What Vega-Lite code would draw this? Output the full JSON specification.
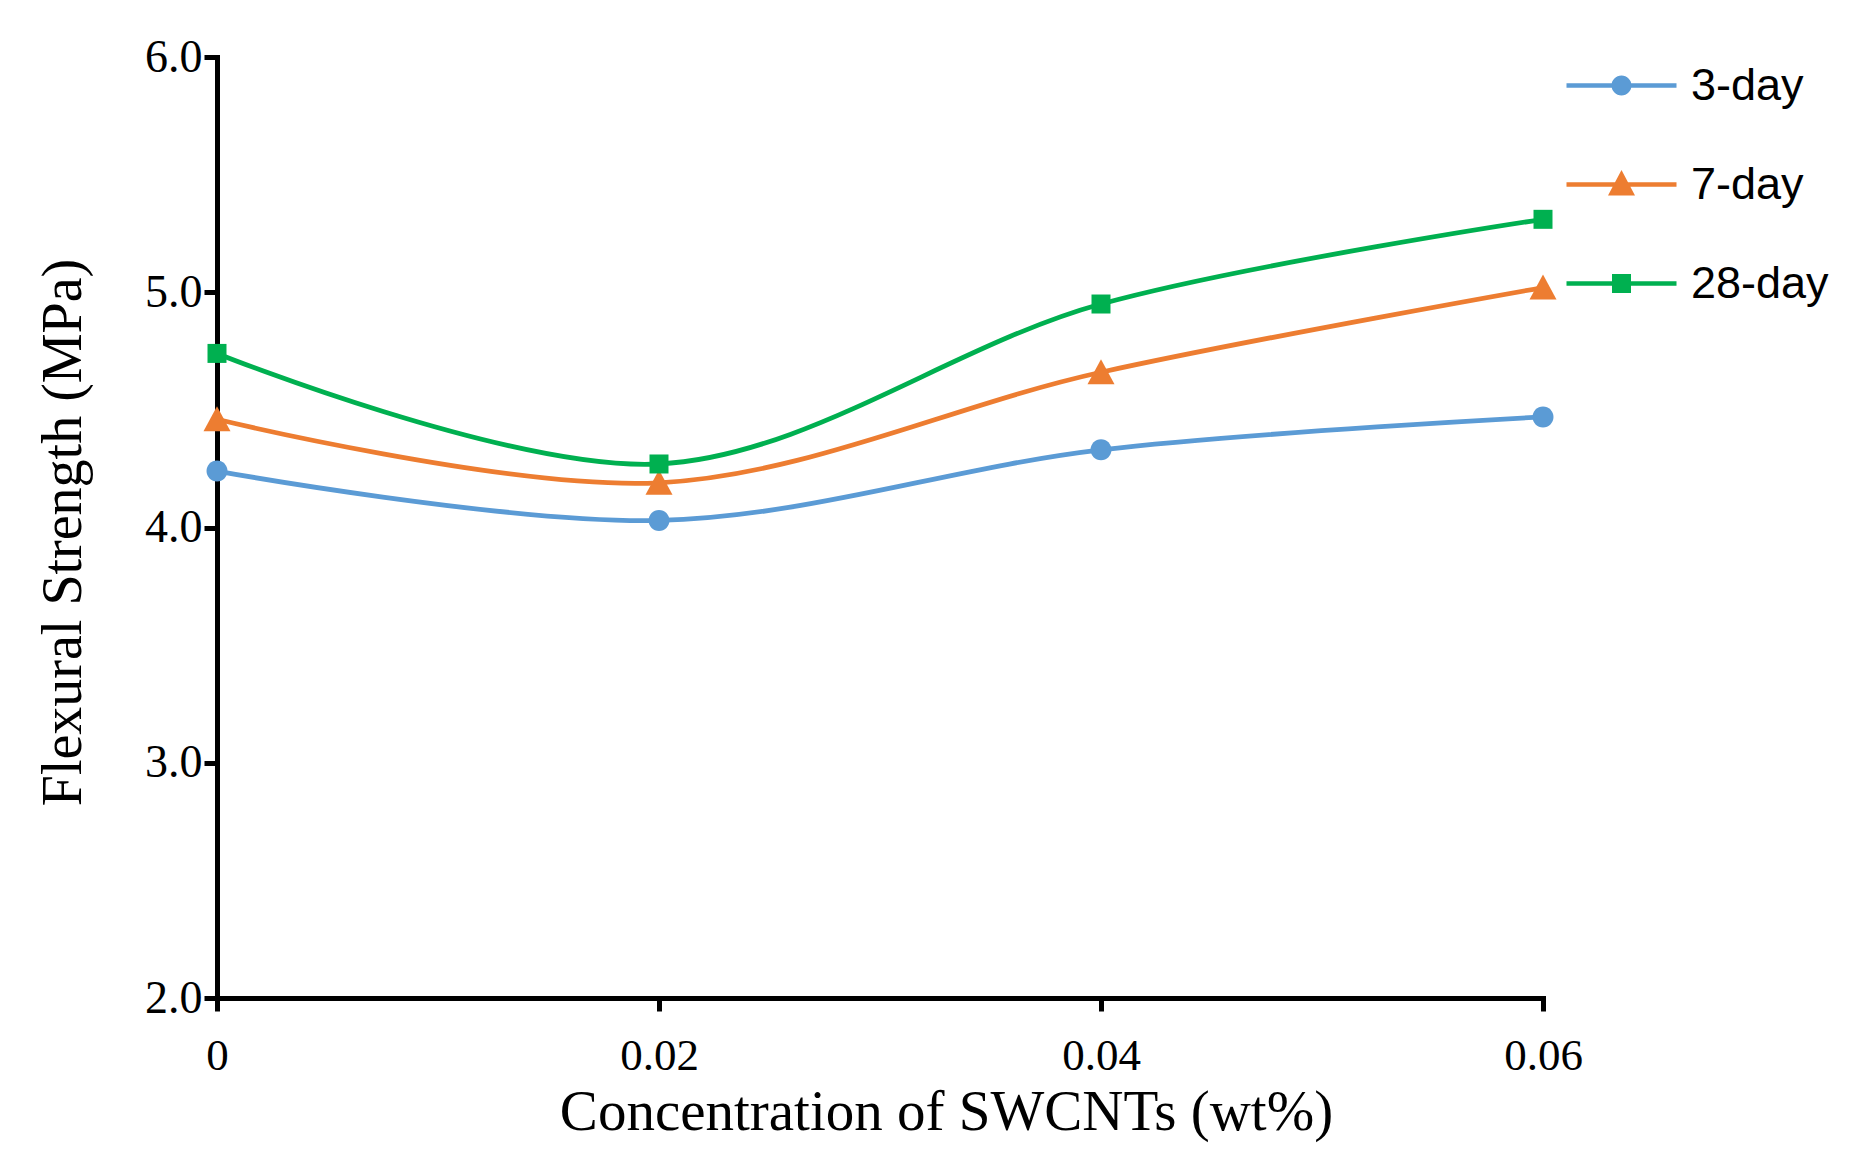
{
  "$schema": "https://vega.github.io/schema/vega-lite/v6.json",
  "width": 1326,
  "height": 941,
  "autosize": {"type": "none"},
  "padding": {"left": 217, "top": 57, "right": 317, "bottom": 170},
  "background": "white",
  "config": {"view": {"stroke": null}, "axis": {"grid": false}},
  "data": {
    "values": [
      {"conc": 0, "strength": 4.24, "age": "3-day"},
      {"conc": 0.02, "strength": 4.03, "age": "3-day"},
      {"conc": 0.04, "strength": 4.33, "age": "3-day"},
      {"conc": 0.06, "strength": 4.47, "age": "3-day"},
      {"conc": 0, "strength": 4.46, "age": "7-day"},
      {"conc": 0.02, "strength": 4.19, "age": "7-day"},
      {"conc": 0.04, "strength": 4.66, "age": "7-day"},
      {"conc": 0.06, "strength": 5.02, "age": "7-day"},
      {"conc": 0, "strength": 4.74, "age": "28-day"},
      {"conc": 0.02, "strength": 4.27, "age": "28-day"},
      {"conc": 0.04, "strength": 4.95, "age": "28-day"},
      {"conc": 0.06, "strength": 5.31, "age": "28-day"}
    ]
  },
  "encoding": {
    "x": {
      "field": "conc",
      "type": "quantitative",
      "scale": {"domain": [0, 0.06], "nice": false, "zero": false},
      "axis": {
        "values": [0, 0.02, 0.04, 0.06],
        "format": "~g",
        "title": "Concentration of SWCNTs (wt%)",
        "domainColor": "black",
        "domainWidth": 5,
        "domainCap": "square",
        "tickColor": "black",
        "tickWidth": 5,
        "tickSize": 13,
        "labelFont": "Liberation Serif",
        "labelFontSize": 45,
        "labelColor": "black",
        "labelPadding": 22,
        "labelFlush": false,
        "labelOverlap": false,
        "titleFont": "Liberation Serif",
        "titleFontSize": 57,
        "titleFontWeight": "normal",
        "titleColor": "black",
        "titleX": 729,
        "titleY": 131,
        "titleBaseline": "alphabetic"
      }
    },
    "y": {
      "field": "strength",
      "type": "quantitative",
      "scale": {"domain": [2, 6], "nice": false, "zero": false},
      "axis": {
        "values": [2, 3, 4, 5, 6],
        "format": ".1f",
        "title": "Flexural Strength (MPa)",
        "domainColor": "black",
        "domainWidth": 5,
        "domainCap": "square",
        "tickColor": "black",
        "tickWidth": 5,
        "tickSize": 13,
        "labelFont": "Liberation Serif",
        "labelFontSize": 46,
        "labelColor": "black",
        "labelPadding": 2,
        "labelFlush": false,
        "labelOverlap": false,
        "titleFont": "Liberation Serif",
        "titleFontSize": 56,
        "titleFontWeight": "normal",
        "titleColor": "black",
        "titleX": -137,
        "titleY": 475,
        "titleBaseline": "alphabetic"
      }
    },
    "color": {
      "field": "age",
      "type": "nominal",
      "scale": {"domain": ["3-day", "7-day", "28-day"], "range": ["#5B9BD5", "#ED7D31", "#00B050"]},
      "legend": {
        "title": null,
        "orient": "none",
        "legendX": 1382,
        "legendY": 6,
        "padding": 0,
        "symbolSize": 400,
        "symbolStrokeWidth": 0,
        "labelFont": "Liberation Sans",
        "labelFontSize": 45,
        "labelColor": "black",
        "labelOffset": 47,
        "labelLimit": 0,
        "rowPadding": 53,
        "encode": {
          "symbols": {
            "update": {
              "shape": {"signal": "datum.value === '3-day' ? 'M-5.5,-0.22H5.5V0.22H-5.5Z M-1,0A1,1,0,1,1,1,0A1,1,0,1,1,-1,0Z' : datum.value === '7-day' ? 'M-5.5,-0.22H5.5V0.22H-5.5Z M0,-1.45L1.35,1.1L-1.35,1.1Z' : 'M-5.5,-0.22H5.5V0.22H-5.5Z M-0.95,-0.95H0.95V0.95H-0.95Z'"},
              "fill": {"signal": "scale('color', datum.value)"},
              "opacity": {"value": 1},
              "strokeWidth": {"value": 0},
              "size": {"value": 400}
            }
          }
        }
      }
    }
  },
  "layer": [
    {"mark": {"type": "line", "interpolate": "catmull-rom", "strokeWidth": 4.8}},
    {
      "transform": [{"filter": {"field": "age", "equal": "3-day"}}],
      "mark": {"type": "point", "filled": true, "opacity": 1, "size": 400, "strokeWidth": 0, "shape": "M-1.05,0A1.05,1.05,0,1,1,1.05,0A1.05,1.05,0,1,1,-1.05,0Z"}
    },
    {
      "transform": [{"filter": {"field": "age", "equal": "7-day"}}],
      "mark": {"type": "point", "filled": true, "opacity": 1, "size": 400, "strokeWidth": 0, "shape": "M0,-1.3L1.35,1.2L-1.35,1.2Z"}
    },
    {
      "transform": [{"filter": {"field": "age", "equal": "28-day"}}],
      "mark": {"type": "point", "filled": true, "opacity": 1, "size": 400, "strokeWidth": 0, "shape": "M-0.95,-0.95H0.95V0.95H-0.95Z"}
    }
  ]
}
